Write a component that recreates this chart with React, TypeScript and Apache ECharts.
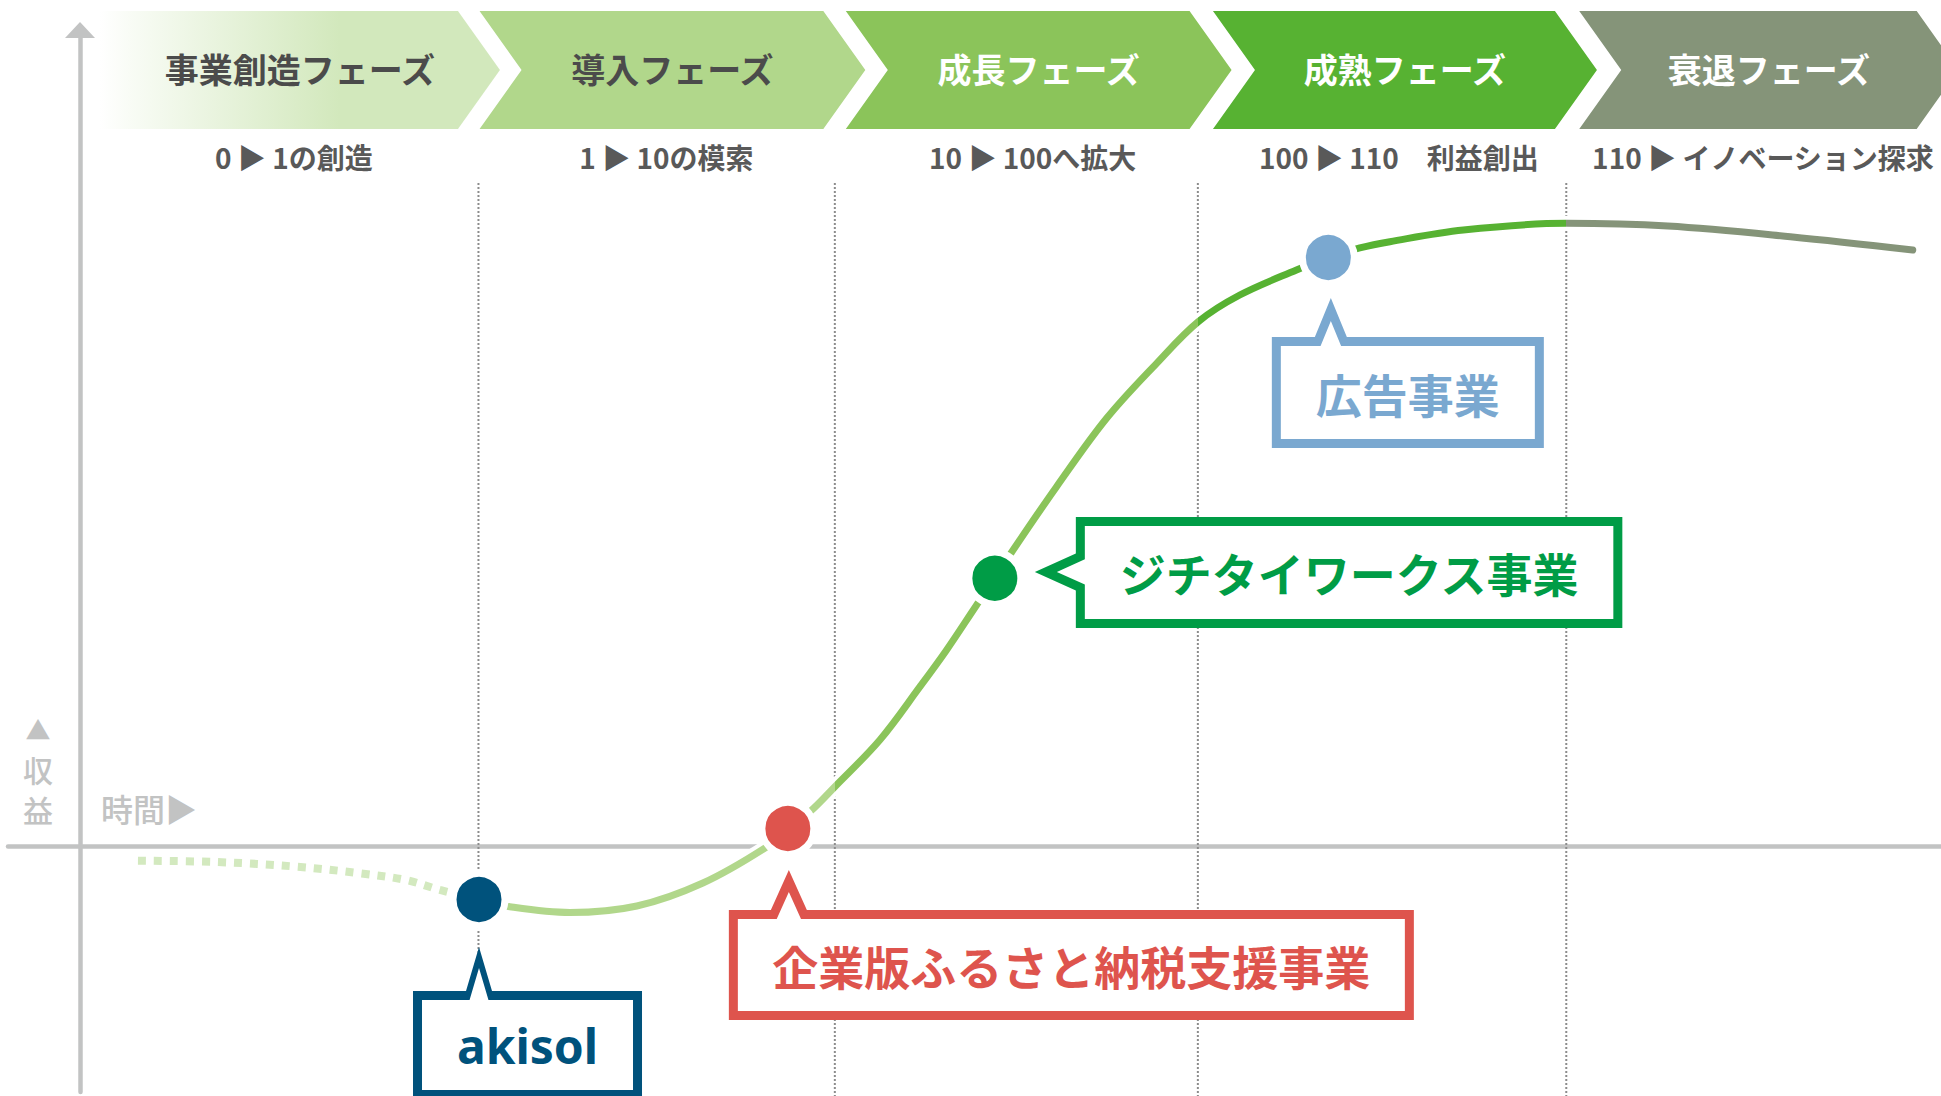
import React, { useEffect, useRef } from "react";
import * as echarts from "echarts";

// ---------------- data ----------------
const phaseTitles = ["事業創造フェーズ", "導入フェーズ", "成長フェーズ", "成熟フェーズ", "衰退フェーズ"];
const phaseSubtitles = ["0 ▶ 1の創造", "1 ▶ 10の模索", "10 ▶ 100へ拡大", "100 ▶ 110　利益創出", "110 ▶ イノベーション探求"];
// band extents on the time axis (start of band, end of band body)
const phaseStart = [1.1, 22.2, 42.55, 62.95, 83.3];
const phaseEnd = [21.0, 41.3, 61.65, 81.95, 102.05];
// phase boundaries (dotted guide lines) on the time axis
const phaseBoundaries = [22.14, 41.94, 62.11, 82.58];
const boundaryTop = 110.5;
const boundaryBottom = -41.7;

// exploratory (dotted) part of the curve
const exploreX = [3.22, 7.61, 12.06, 15.56, 18.11, 20.0, 22.17];
const exploreY = [-2.45, -2.67, -3.45, -4.55, -5.67, -7.33, -8.92];

// solid growth curve
const growthX = [22.17, 23.89, 27.22, 30.94, 34.61, 38.17, 39.33, 40.56, 41.94, 44.44, 46.67, 48.15, 49.82, 50.83, 51.78, 54.26, 57.04, 59.82, 62.13, 64.44, 67.59, 69.36, 71.11, 72.78, 76.86, 82.58, 88.22, 95.03, 101.83];
const growthY = [-8.92, -10.12, -11.08, -10.0, -6.17, -0.12, 2.92, 5.72, 9.88, 17.67, 26.55, 32.67, 40.17, 44.62, 49.05, 59.88, 71.28, 80.45, 87.38, 91.83, 96.0, 98.08, 99.67, 100.72, 102.67, 103.78, 103.33, 101.55, 99.33];

// businesses placed on the curve
const businessNames = ["akisol", "企業版ふるさと納税支援事業", "ジチタイワークス事業", "広告事業"];
const businessX = [22.17, 39.33, 50.83, 69.36];
const businessY = [-8.92, 2.92, 44.62, 98.08];

// axis captions
const revenueCaption = ["▲", "収", "益"];
const timeCaption = "時間▶";

// ---------------- styles / layout ----------------
const CJK = '"Noto Sans CJK JP", "Noto Sans", sans-serif';
const phaseFills = ["#d2e8bc", "#b1d78b", "#8bc45a", "#57b232", "#859479"];
const phaseTitleColors = ["#4b4b4b", "#4b4b4b", "#ffffff", "#ffffff", "#ffffff"];
const lineColors = ["#b1d78b", "#8bc45a", "#57b232", "#859479"];
const businessColors = ["#00527c", "#de544d", "#009c46", "#7aa8d0"];
const axisGray = "#c2c3c3";

const bandTop = 11;
const bandBottom = 129;
const bandTip = 42;
const titleY = 68;
const subY = 157;

const calloutLayout = [
  { side: "top", dx: -66, dy: 91.5, w: 229, h: 108, tipDx: 0, tipDy: 47.5, half: 13, inset: 21, font: 'bold 48px "Noto Sans", sans-serif', textDy: 0 },
  { side: "top", dx: -59, dy: 81.5, w: 685, h: 110, tipDx: 1, tipDy: 41.5, half: 18, inset: 22, font: "bold 46px " + CJK, textDy: 0 },
  { side: "left", dx: 81, dy: -61.3, w: 546.5, h: 111, tipDx: 40, tipDy: -6.3, half: 18.5, inset: 22, font: "bold 46px " + CJK, textDy: 0 },
  { side: "top", dx: -56.5, dy: 79.5, w: 272, h: 111, tipDx: 2.5, tipDy: 40.5, half: 16, inset: 23, font: "bold 46px " + CJK, textDy: 0 },
];
const calloutBorder = 9;
const revenueCaptionY = [729, 769, 809];
const revenueCaptionFont = ["500 25px ", "500 30px ", "500 30px "];

function buildOption() {
  const bandGradient = new echarts.graphic.LinearGradient(0, 0, 1, 0, [
    { offset: 0, color: "rgba(210,232,188,0)" },
    { offset: 0.08, color: "rgba(210,232,188,0.15)" },
    { offset: 0.6, color: phaseFills[0] },
    { offset: 1, color: phaseFills[0] },
  ]);

  const series: any[] = [];

  // phase chevrons
  series.push({
    type: "custom",
    z: 1,
    silent: true,
    data: phaseStart.map((s, i) => [s, phaseEnd[i], i]),
    renderItem: (params: any, api: any) => {
      const i = params.dataIndex;
      const xl = api.coord([api.value(0), 0])[0];
      const xr = api.coord([api.value(1), 0])[0];
      const mid = (bandTop + bandBottom) / 2;
      const pts =
        i === 0
          ? [[xl, bandTop], [xr, bandTop], [xr + bandTip, mid], [xr, bandBottom], [xl, bandBottom]]
          : [[xl, bandTop], [xr, bandTop], [xr + bandTip, mid], [xr, bandBottom], [xl, bandBottom], [xl + bandTip, mid]];
      const cx = (xl + xr + bandTip) / 2;
      return {
        type: "group",
        children: [
          { type: "polygon", shape: { points: pts }, style: { fill: i === 0 ? bandGradient : phaseFills[i] } },
          {
            type: "text",
            x: cx,
            y: titleY,
            style: { text: phaseTitles[i], fill: phaseTitleColors[i], font: "bold 34px " + CJK, align: "center", verticalAlign: "middle" },
          },
          {
            type: "text",
            x: cx - 6,
            y: subY,
            style: { text: phaseSubtitles[i], fill: "#595959", font: "bold 28px " + CJK, align: "center", verticalAlign: "middle" },
          },
        ],
      };
    },
  });

  // dotted phase boundaries
  phaseBoundaries.forEach((b) => {
    series.push({
      type: "line",
      z: 1,
      silent: true,
      clip: false,
      symbol: "none",
      data: [[b, boundaryTop], [b, boundaryBottom]],
      lineStyle: { color: "#8c8c8c", width: 2, type: [2, 2] },
    });
  });

  const growthData = growthX.map((x, i) => [x, growthY[i]]);

  // white halo under the curve
  series.push({
    type: "line",
    z: 2,
    silent: true,
    symbol: "none",
    smooth: 0.35,
    data: growthData,
    lineStyle: { color: "#ffffff", width: 15, cap: "round" },
  });

  // exploratory dotted part
  series.push({
    type: "line",
    z: 3,
    silent: true,
    symbol: "none",
    smooth: 0.35,
    data: exploreX.map((x, i) => [x, exploreY[i]]),
    lineStyle: { color: "#d3e9bf", width: 8, type: [8, 8], cap: "butt" },
  });

  // growth curve
  const growthIndex = series.length;
  series.push({
    type: "line",
    z: 3,
    silent: true,
    symbol: "none",
    smooth: 0.35,
    data: growthData,
    lineStyle: { width: 7, cap: "round" },
  });

  // business dots
  series.push({
    type: "scatter",
    z: 4,
    silent: true,
    symbolSize: 52,
    data: businessX.map((x, i) => ({ value: [x, businessY[i]], itemStyle: { color: businessColors[i] } })),
    itemStyle: { borderColor: "#ffffff", borderWidth: 7, opacity: 1 },
  });

  // callouts
  series.push({
    type: "custom",
    z: 5,
    silent: true,
    data: businessX.map((x, i) => [x, businessY[i]]),
    renderItem: (params: any, api: any) => {
      const i = params.dataIndex;
      const L = calloutLayout[i];
      const c = api.coord([api.value(0), api.value(1)]);
      const b = calloutBorder;
      const x0 = c[0] + L.dx;
      const y0 = c[1] + L.dy;
      const w = L.w;
      const h = L.h;
      const tx = c[0] + L.tipDx;
      const ty = c[1] + L.tipDy;
      let outer: number[][];
      let inner: number[][];
      if (L.side === "top") {
        const H = y0 - ty;
        const hi = ((H + b - L.inset) * L.half) / H;
        outer = [[x0, y0], [tx - L.half, y0], [tx, ty], [tx + L.half, y0], [x0 + w, y0], [x0 + w, y0 + h], [x0, y0 + h]];
        inner = [[x0 + b, y0 + b], [tx - hi, y0 + b], [tx, ty + L.inset], [tx + hi, y0 + b], [x0 + w - b, y0 + b], [x0 + w - b, y0 + h - b], [x0 + b, y0 + h - b]];
      } else {
        const H = x0 - tx;
        const hi = ((H + b - L.inset) * L.half) / H;
        outer = [[x0, y0], [x0 + w, y0], [x0 + w, y0 + h], [x0, y0 + h], [x0, ty + L.half], [tx, ty], [x0, ty - L.half]];
        inner = [[x0 + b, y0 + b], [x0 + w - b, y0 + b], [x0 + w - b, y0 + h - b], [x0 + b, y0 + h - b], [x0 + b, ty + hi], [tx + L.inset, ty], [x0 + b, ty - hi]];
      }
      const color = businessColors[i];
      return {
        type: "group",
        children: [
          { type: "polygon", shape: { points: outer }, style: { fill: color } },
          { type: "polygon", shape: { points: inner }, style: { fill: "#ffffff" } },
          {
            type: "text",
            x: x0 + w / 2,
            y: y0 + h / 2 + L.textDy,
            style: { text: businessNames[i], fill: color, font: L.font, align: "center", verticalAlign: "middle" },
          },
        ],
      };
    },
  });

  const labelStyle = { fill: axisGray, verticalAlign: "middle" };

  return {
    animation: false,
    backgroundColor: "#ffffff",
    grid: { left: 8, right: 0, top: 30, bottom: 4, containLabel: false },
    xAxis: {
      type: "value",
      min: -4,
      max: 103.4,
      axisLine: { show: true, onZero: true, lineStyle: { color: axisGray, width: 4.5 } },
      axisTick: { show: false },
      axisLabel: { show: false },
      splitLine: { show: false },
    },
    yAxis: {
      type: "value",
      min: -41,
      max: 136,
      axisLine: {
        show: true,
        onZero: true,
        symbol: ["none", "triangle"],
        symbolSize: [30, 16],
        lineStyle: { color: axisGray, width: 4.5 },
      },
      axisTick: { show: false },
      axisLabel: { show: false },
      splitLine: { show: false },
    },
    visualMap: {
      show: false,
      type: "piecewise",
      dimension: 0,
      seriesIndex: growthIndex,
      pieces: [
        { lt: phaseBoundaries[1], color: lineColors[0] },
        { gte: phaseBoundaries[1], lt: phaseBoundaries[2], color: lineColors[1] },
        { gte: phaseBoundaries[2], lt: phaseBoundaries[3], color: lineColors[2] },
        { gte: phaseBoundaries[3], color: lineColors[3] },
      ],
    },
    graphic: [
      ...revenueCaption.map((t, i) => ({
        type: "text",
        x: 38,
        y: revenueCaptionY[i],
        silent: true,
        style: { ...labelStyle, text: t, align: "center", font: revenueCaptionFont[i] + CJK, lineHeight: 30 },
      })),
      { type: "text", x: 101, y: 808, silent: true, style: { ...labelStyle, text: timeCaption, align: "left", font: "500 32px " + CJK } },
    ],
    series,
  };
}

export default function App() {
  const ref = useRef<HTMLDivElement>(null);
  useEffect(() => {
    if (!ref.current) return;
    const chart = echarts.init(ref.current, undefined, { renderer: "svg" });
    chart.setOption(buildOption() as any);
    return () => chart.dispose();
  }, []);
  return (
    <div
      ref={ref}
      style={{ position: "fixed", left: 0, top: 0, width: 1941, height: 1096, background: "#ffffff" }}
    />
  );
}
